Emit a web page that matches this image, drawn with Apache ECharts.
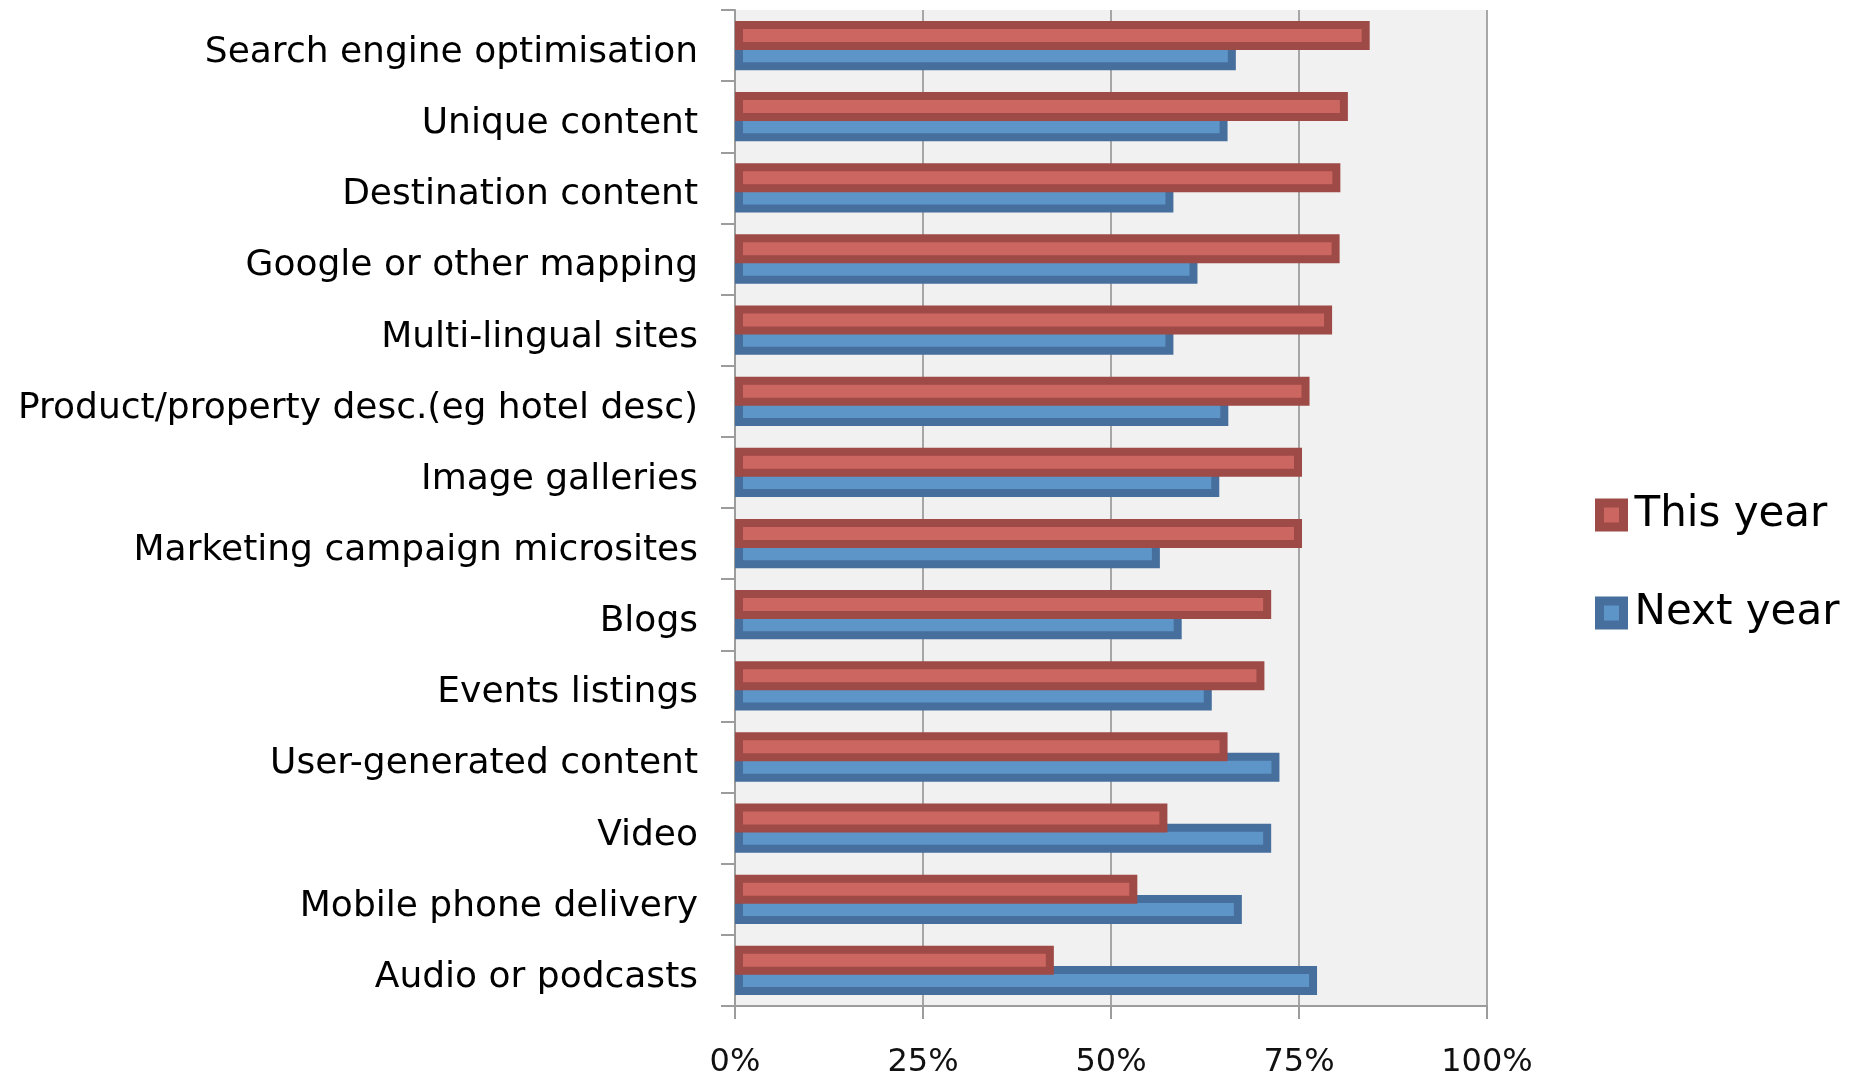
<!DOCTYPE html>
<html>
<head>
<meta charset="utf-8">
<script src="https://cdn.jsdelivr.net/npm/echarts@6/dist/echarts.min.js"></script>
<style>
html,body{margin:0;padding:0;background:#fff;}
#chart{width:1856px;height:1075px;}
</style>
</head>
<body>
<div id="chart"></div>
<script>
const categories = ['Search engine optimisation','Unique content','Destination content','Google or other mapping','Multi-lingual sites','Product/property desc.(eg hotel desc)','Image galleries','Marketing campaign microsites','Blogs','Events listings','User-generated content','Video','Mobile phone delivery','Audio or podcasts'];
const thisYear = [84.4,81.5,80.5,80.4,79.4,76.4,75.4,75.4,71.3,70.4,65.5,57.5,53.5,42.4];
const nextYear = [66.6,65.5,58.3,61.5,58.3,65.6,64.4,56.5,59.4,63.4,72.4,71.3,67.4,77.4];
const xTicks = [0,25,50,75,100];

const font = 'DejaVu Sans';
const axisGray = '#9c9c9c';
const chart = echarts.init(document.getElementById('chart'));
chart.setOption({
  animation: false,
  backgroundColor: '#ffffff',
  grid: {left: 735, right: 369, top: 10, bottom: 69, show: true, backgroundColor: '#f1f1f1', borderWidth: 0, containLabel: false, outerBoundsMode: 'none'},
  legend: {
    orient: 'vertical', left: 1590, top: 488,
    icon: 'rect',
    itemWidth: 24, itemHeight: 24, itemGap: 54,
    itemStyle: {borderWidth: 9},
    textStyle: {fontFamily: font, fontSize: 42, color: '#000', lineHeight: 44, padding: [0,0,0,6]},
    data: ['This year','Next year']
  },
  xAxis: {
    type: 'value', min: xTicks[0], max: xTicks[xTicks.length-1], interval: 25,
    axisLine: {show: true, lineStyle: {color: axisGray, width: 2}},
    axisTick: {show: true, length: 13, lineStyle: {color: axisGray, width: 2}},
    axisLabel: {formatter: '{value}%', fontFamily: font, fontSize: 32, color: '#111', margin: 41},
    splitLine: {show: true, lineStyle: {color: '#8c8c8c', width: 1.5}}
  },
  yAxis: {
    type: 'category', inverse: true, data: categories,
    axisLine: {show: true, lineStyle: {color: axisGray, width: 2}},
    axisTick: {show: true, length: 14, lineStyle: {color: axisGray, width: 2}},
    axisLabel: {fontFamily: font, fontSize: 36, color: '#000', margin: 37, verticalAlign: 'top', lineHeight: 14},
    splitLine: {show: false}
  },
  series: [
    {
      name: 'This year', type: 'bar', data: thisYear, z: 3,
      barWidth: 29, barGap: '-30%', clip: true,
      itemStyle: {color: '#cc6660', borderColor: '#9e4a46', borderWidth: 8}
    },
    {
      name: 'Next year', type: 'bar', data: nextYear, z: 2,
      barWidth: 29, barGap: '-30%', clip: true,
      itemStyle: {color: '#5e95c9', borderColor: '#466f9d', borderWidth: 8}
    }
  ]
});
</script>
</body>
</html>
